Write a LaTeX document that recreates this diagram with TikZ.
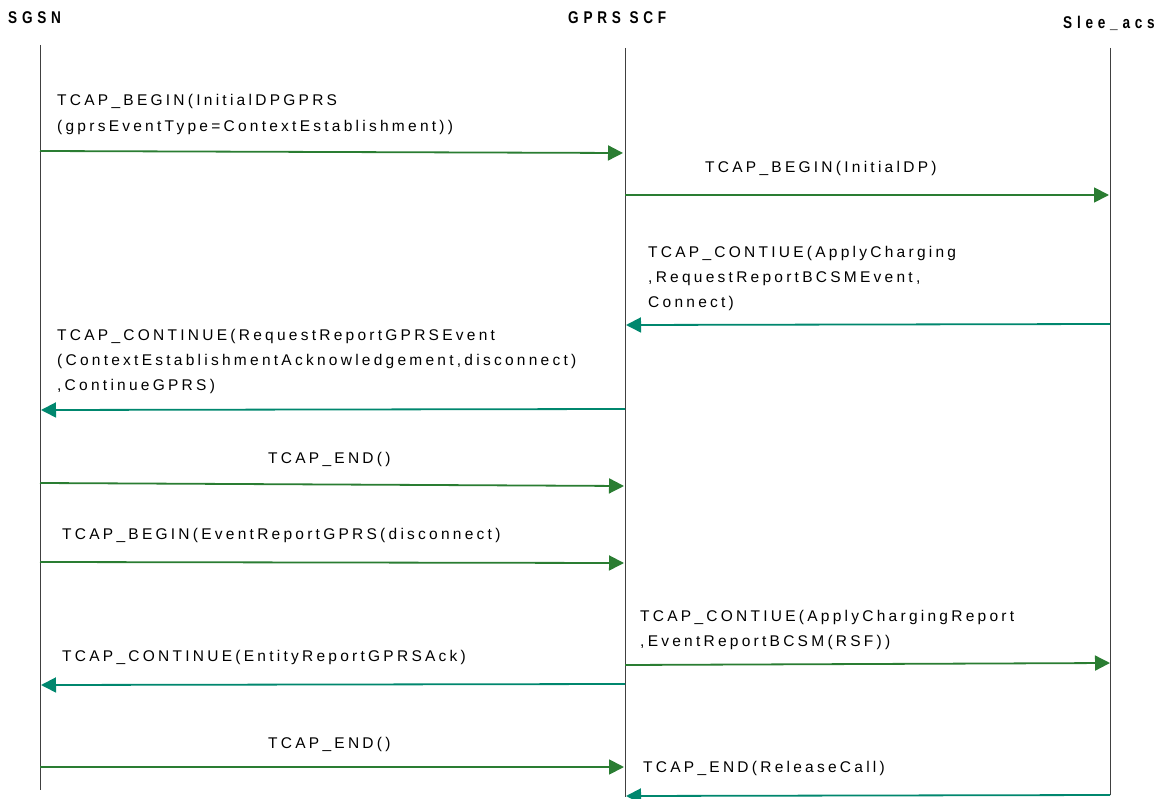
\documentclass[tikz,border=0pt]{standalone}
\usepackage{fontspec}
\usetikzlibrary{arrows.meta}
\newfontfamily\lblfamily[LetterSpace=21]{Liberation Sans}
\newfontfamily\hdfamily[LetterSpace=28,FakeStretch=0.8]{Liberation Sans}
\definecolor{fwd}{RGB}{42,125,50}
\definecolor{bwd}{RGB}{0,135,110}
\tikzset{
  life/.style={draw=black!75, line width=0.9pt},
  msgf/.style={draw=fwd, line width=1.8pt, -{Triangle[length=15pt,width=15pt]}},
  msgb/.style={draw=bwd, line width=1.8pt, -{Triangle[length=15pt,width=15pt]}},
  lbl/.style={anchor=base west, inner sep=0pt, font=\lblfamily\fontsize{15.5}{18}\selectfont},
  head/.style={anchor=base west, inner sep=0pt, font=\hdfamily\bfseries\fontsize{17}{20}\selectfont}
}
\begin{document}
\begin{tikzpicture}[x=1pt,y=-1pt]
\useasboundingbox (0,0) rectangle (1159,799);
% headers
\node[head] (hA) at (8,24) {SGSN};
\node[head] (hB) at (568,24) {GPRS SCF};
\node[head] (hC) at (1063,29) {Slee\_acs};
% lifelines
\coordinate (A0) at (40,45);  \coordinate (A1) at (40,790);
\coordinate (B0) at (625,48); \coordinate (B1) at (625,797);
\coordinate (C0) at (1110,48); \coordinate (C1) at (1110,795);
\draw[life] (A0) -- (A1);
\draw[life] (B0) -- (B1);
\draw[life] (C0) -- (C1);
% message end points
\coordinate (m1s) at (40,151);   \coordinate (m1e) at (623,153);
\coordinate (m2s) at (625,195);  \coordinate (m2e) at (1109,195);
\coordinate (m3s) at (1110,324); \coordinate (m3e) at (626,325);
\coordinate (m4s) at (625,409);  \coordinate (m4e) at (41,410);
\coordinate (m5s) at (40,483);   \coordinate (m5e) at (624,486);
\coordinate (m6s) at (40,562);   \coordinate (m6e) at (624,563);
\coordinate (m7s) at (625,665);  \coordinate (m7e) at (1110,663);
\coordinate (m8s) at (625,684);  \coordinate (m8e) at (41,685);
\coordinate (m9s) at (40,767);   \coordinate (m9e) at (624,767);
\coordinate (m10s) at (1110,795); \coordinate (m10e) at (626,796);
% messages
\draw[msgf] (m1s) -- (m1e);
\draw[msgf] (m2s) -- (m2e);
\draw[msgb] (m3s) -- (m3e);
\draw[msgb] (m4s) -- (m4e);
\draw[msgf] (m5s) -- (m5e);
\draw[msgf] (m6s) -- (m6e);
\draw[msgf] (m7s) -- (m7e);
\draw[msgb] (m8s) -- (m8e);
\draw[msgf] (m9s) -- (m9e);
\draw[msgb] (m10s) -- (m10e);
% labels
\node[lbl] (l1a) at (57,106) {TCAP\_BEGIN(InitialDPGPRS};
\node[lbl] (l1b) at (57,132) {(gprsEventType=ContextEstablishment))};
\node[lbl] (l2) at (705,173) {TCAP\_BEGIN(InitialDP)};
\node[lbl] (l3a) at (648,258) {TCAP\_CONTIUE(ApplyCharging};
\node[lbl] (l3b) at (648,283) {,RequestReportBCSMEvent,};
\node[lbl] (l3c) at (648,308) {Connect)};
\node[lbl] (l4a) at (57,341) {TCAP\_CONTINUE(RequestReportGPRSEvent};
\node[lbl] (l4b) at (57,366) {(ContextEstablishmentAcknowledgement,disconnect)};
\node[lbl] (l4c) at (57,391) {,ContinueGPRS)};
\node[lbl] (l5) at (268,463) {TCAP\_END()};
\node[lbl] (l6) at (62,539) {TCAP\_BEGIN(EventReportGPRS(disconnect)};
\node[lbl] (l7a) at (640,621) {TCAP\_CONTIUE(ApplyChargingReport};
\node[lbl] (l7b) at (640,646) {,EventReportBCSM(RSF))};
\node[lbl] (l8) at (62,661) {TCAP\_CONTINUE(EntityReportGPRSAck)};
\node[lbl] (l9) at (268,748) {TCAP\_END()};
\node[lbl] (l10) at (643,772) {TCAP\_END(ReleaseCall)};
\end{tikzpicture}
\end{document}
